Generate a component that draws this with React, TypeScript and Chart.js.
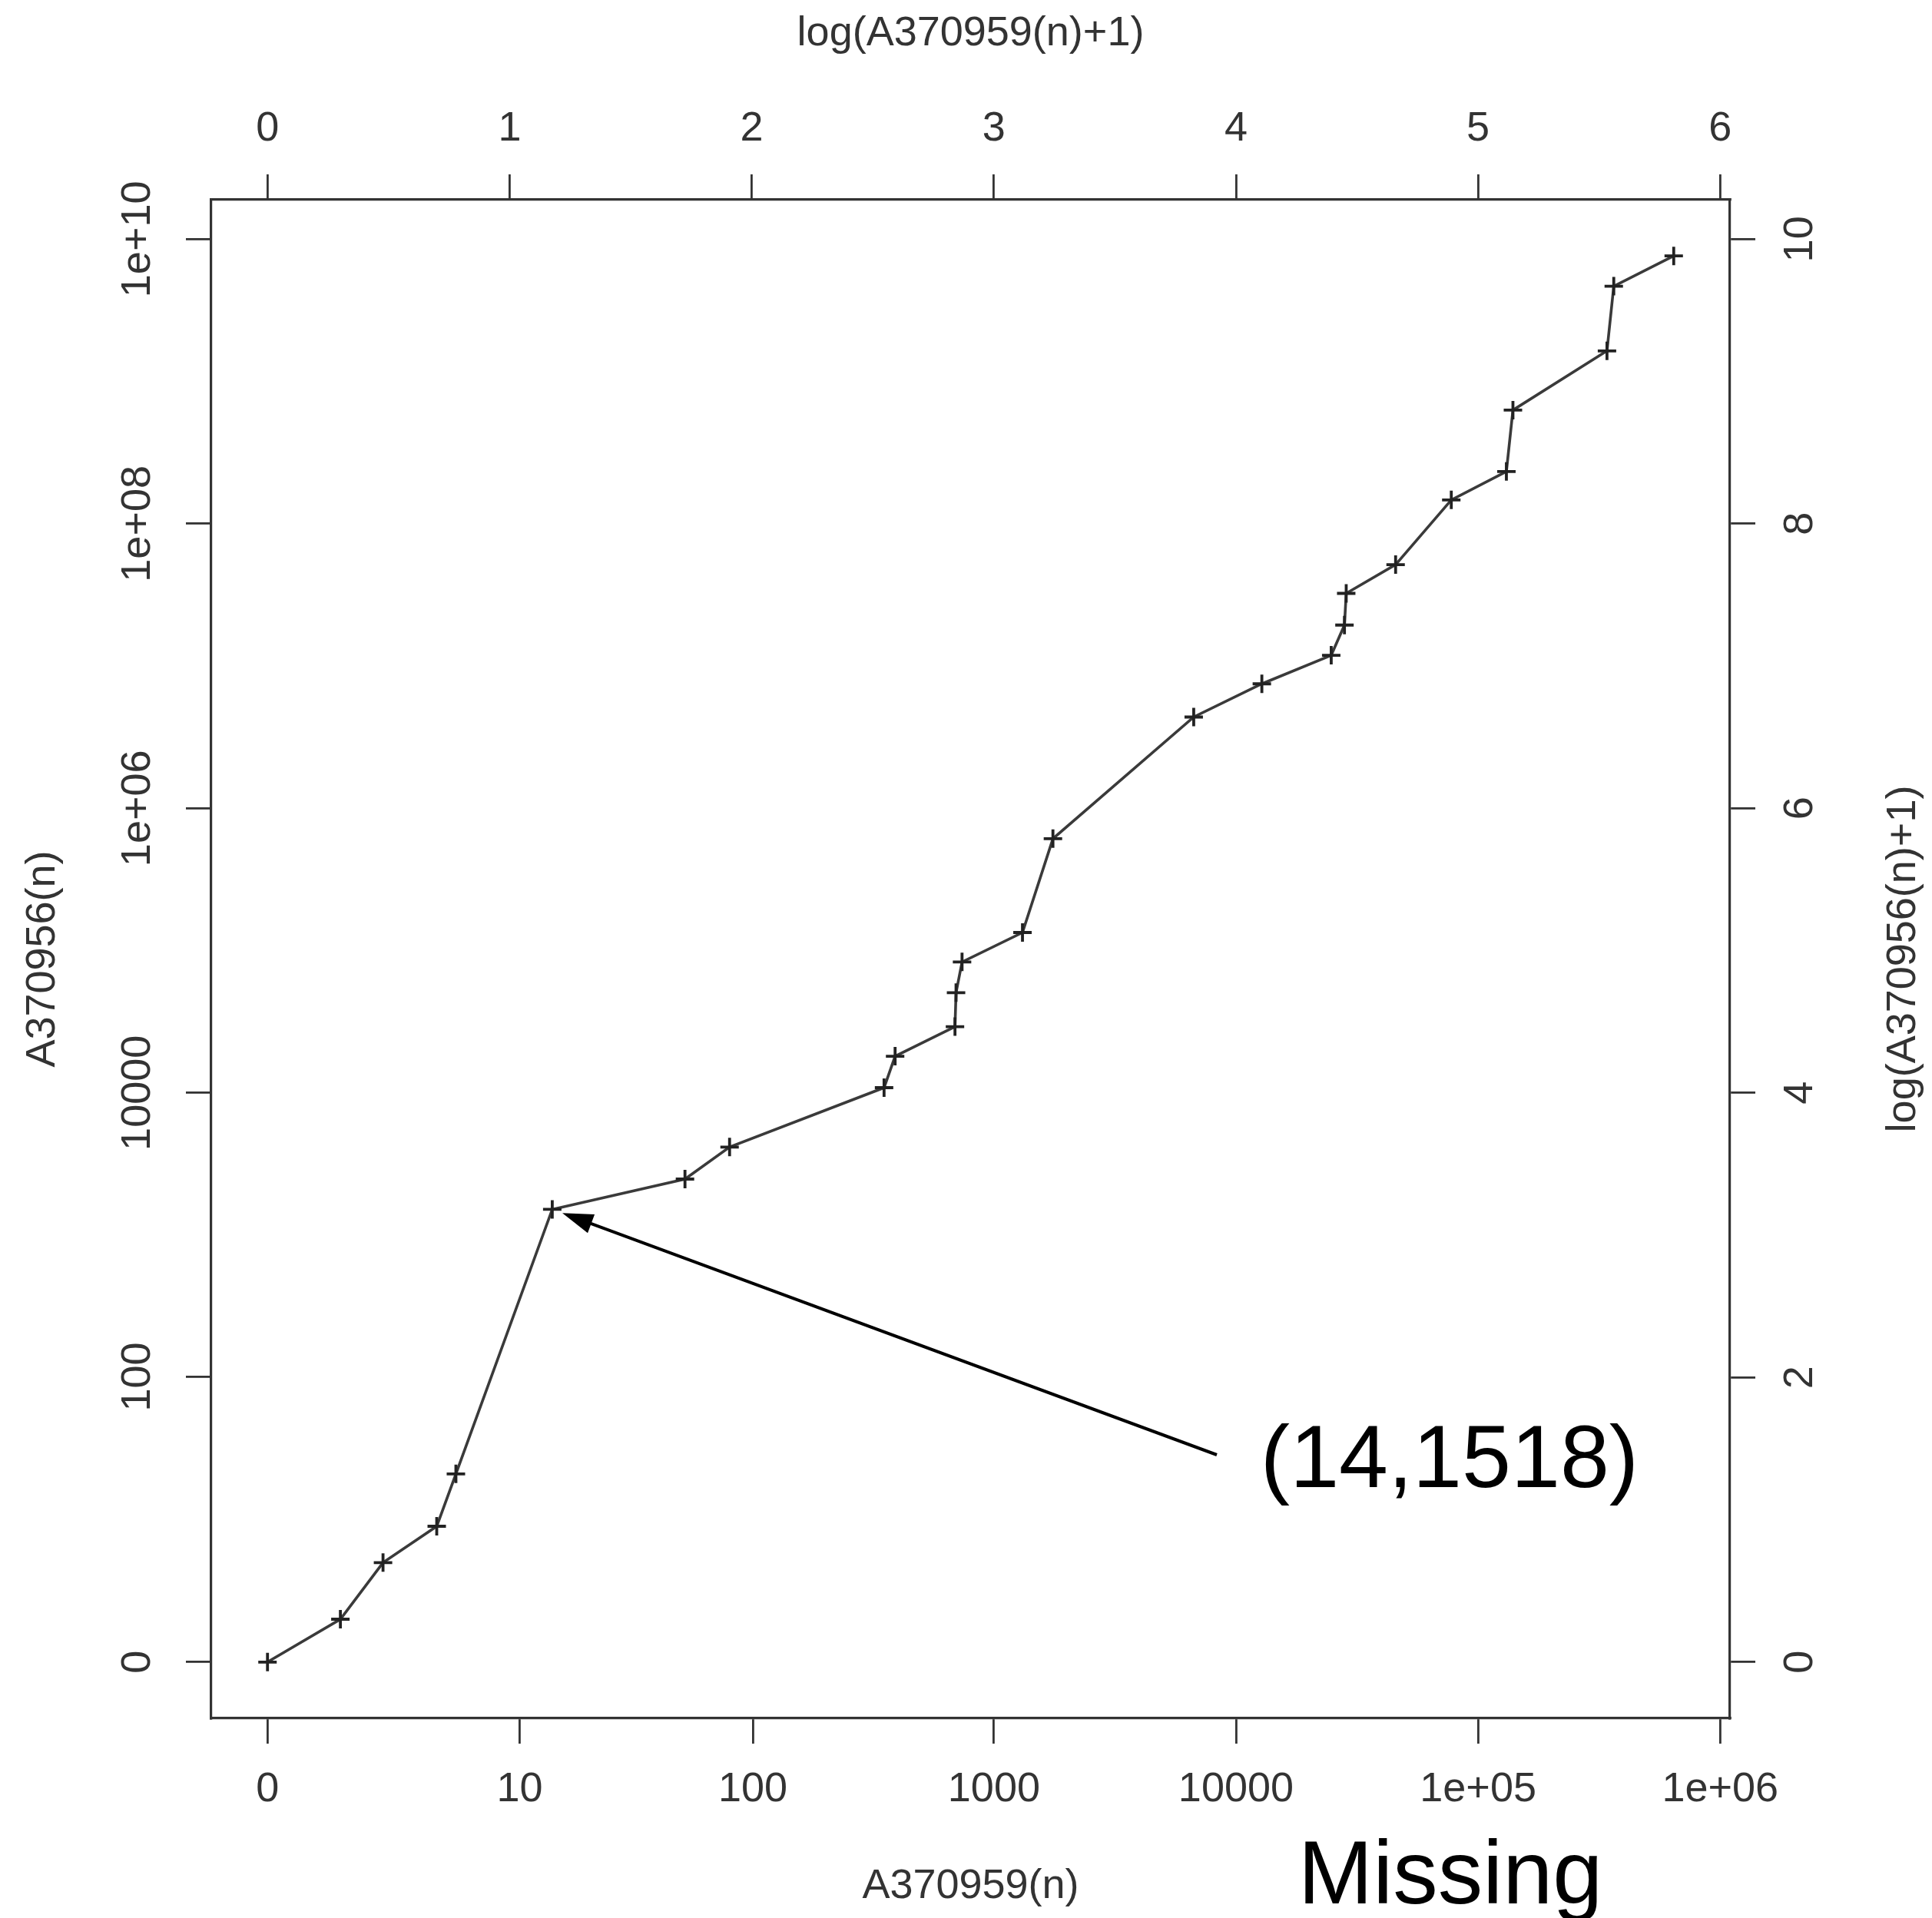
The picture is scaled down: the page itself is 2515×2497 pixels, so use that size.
import React, { useEffect, useRef } from "react";
import { Chart, registerables } from "chart.js";

Chart.register(...registerables);

// ---- data ----
const A370959 = [0, 1, 2, 4, 5, 14, 52, 80, 351, 390, 690, 697, 738, 1312, 1753, 6690, 12790, 24740, 28060, 28530, 45640, 77500, 130900, 139300, 340700, 363400, 642700];
const A370956 = [0, 1, 4, 8, 20, 1518, 2478, 4160, 10880, 18100, 29200, 50600, 83200, 134000, 612000, 4380000, 7500000, 11900000, 19400000, 32400000, 51600000, 147000000, 233000000, 629000000, 1640000000, 4670000000, 7620000000];

const bottomTickValues = [0, 10, 100, 1000, 10000, 100000, 1000000];
const bottomTickLabels = ["0", "10", "100", "1000", "10000", "1e+05", "1e+06"];
const leftTickValues = [0, 100, 10000, 1000000, 100000000, 10000000000];
const leftTickLabels = ["0", "100", "10000", "1e+06", "1e+08", "1e+10"];
const topTickValues = [0, 1, 2, 3, 4, 5, 6];
const rightTickValues = [0, 2, 4, 6, 8, 10];

const xTitle = "A370959(n)";
const yTitle = "A370956(n)";
const topTitle = "log(A370959(n)+1)";
const rightTitle = "log(A370956(n)+1)";
const highlightIndex = 5;
const highlightLabel = "(14,1518)";
const footnote = "Missing";

// ---- helpers ----
const lg = (v: number) => Math.log10(v + 1);
const FONT = '"Liberation Sans", Arial, Helvetica, sans-serif';
const INK = "#333333";
const LINE = "#3a3a3a";
const tickFont = { family: FONT, size: 54 };

function rRange(vals: number[]) {
  const mn = Math.min(...vals);
  const mx = Math.max(...vals);
  const pad = 0.04 * (mx - mn);
  return { min: mn - pad, max: mx + pad };
}

const setTicks = (vals: number[]) => (scale: any) => {
  scale.ticks = vals.map((v) => ({ value: v }));
};
const fixW = (w: number) => (scale: any) => {
  scale.width = w;
};
const fixH = (h: number) => (scale: any) => {
  scale.height = h;
};

const gridOpts = {
  drawOnChartArea: false,
  drawTicks: true,
  tickLength: 33,
  lineWidth: 2.8,
  color: INK,
};
const borderOpts = { display: true, color: INK, width: 3.2 };

const extrasPlugin = {
  id: "extras",
  afterDraw(chart: any) {
    const ctx = chart.ctx;
    const xs = chart.scales.x;
    const ys = chart.scales.y;
    const area = chart.chartArea;
    ctx.save();

    // right axis title (reads bottom-to-top)
    ctx.fillStyle = INK;
    ctx.font = `54px ${FONT}`;
    ctx.textAlign = "center";
    ctx.textBaseline = "middle";
    ctx.save();
    ctx.translate(chart.width - 37, (area.top + area.bottom) / 2);
    ctx.rotate(-Math.PI / 2);
    ctx.fillText(rightTitle, 0, 0);
    ctx.restore();

    // arrow to highlighted point
    const px = xs.getPixelForValue(lg(A370959[highlightIndex]));
    const py = ys.getPixelForValue(lg(A370956[highlightIndex]));
    const tailX = 1584;
    const tailY = 1894;
    const dx = tailX - px;
    const dy = tailY - py;
    const len = Math.hypot(dx, dy);
    const ux = dx / len;
    const uy = dy / len;
    const tipX = px + ux * 14;
    const tipY = py + uy * 14;
    const headLen = 40;
    const headHalf = 13;
    ctx.strokeStyle = "#000";
    ctx.lineWidth = 4;
    ctx.beginPath();
    ctx.moveTo(tailX, tailY);
    ctx.lineTo(tipX + ux * headLen * 0.7, tipY + uy * headLen * 0.7);
    ctx.stroke();
    const bx = tipX + ux * headLen;
    const by = tipY + uy * headLen;
    ctx.fillStyle = "#000";
    ctx.beginPath();
    ctx.moveTo(tipX, tipY);
    ctx.lineTo(bx - uy * headHalf, by + ux * headHalf);
    ctx.lineTo(bx + uy * headHalf, by - ux * headHalf);
    ctx.closePath();
    ctx.fill();

    // annotation texts
    ctx.textAlign = "center";
    ctx.textBaseline = "alphabetic";
    ctx.font = `115px ${FONT}`;
    ctx.fillText(highlightLabel, 1887, 1936);
    ctx.font = `117px ${FONT}`;
    ctx.fillText(footnote, 1888, 2478);

    ctx.restore();
  },
};

export default function App() {
  const ref = useRef<HTMLCanvasElement | null>(null);

  useEffect(() => {
    if (!ref.current) return;
    const xr = rRange(A370959.map(lg));
    const yr = rRange(A370956.map(lg));
    const points = A370959.map((v, i) => ({ x: lg(v), y: lg(A370956[i]) }));

    const chart = new Chart(ref.current, {
      type: "scatter",
      data: {
        datasets: [
          {
            data: points,
            showLine: true,
            borderColor: LINE,
            borderWidth: 3.6,
            tension: 0,
            pointStyle: "cross",
            pointRadius: 12,
            pointBorderWidth: 3.8,
            pointBorderColor: "#222",
            pointBackgroundColor: "#222",
            fill: false,
          } as any,
        ],
      },
      options: {
        animation: false,
        responsive: false,
        devicePixelRatio: 1,
        layout: { padding: 0 },
        plugins: {
          legend: { display: false },
          tooltip: { enabled: false },
          title: { display: false },
        },
        scales: {
          x: {
            type: "linear",
            position: "bottom",
            min: xr.min,
            max: xr.max,
            afterBuildTicks: setTicks(bottomTickValues.map(lg)),
            afterFit: fixH(260),
            grid: gridOpts,
            border: borderOpts,
            ticks: {
              autoSkip: false,
              minRotation: 0,
              maxRotation: 0,
              padding: 28,
              color: INK,
              font: tickFont,
              callback: (_v: any, i: number) => bottomTickLabels[i],
            },
            title: {
              display: true,
              text: xTitle,
              color: INK,
              font: tickFont,
              padding: { top: 0, bottom: 8 },
            },
          },
          x2: {
            type: "linear",
            position: "top",
            min: xr.min,
            max: xr.max,
            afterBuildTicks: setTicks(topTickValues),
            afterFit: fixH(260),
            grid: gridOpts,
            border: borderOpts,
            ticks: {
              autoSkip: false,
              minRotation: 0,
              maxRotation: 0,
              padding: 26,
              color: INK,
              font: tickFont,
              callback: (v: any) => String(Math.round(Number(v))),
            },
            title: {
              display: true,
              text: topTitle,
              color: INK,
              font: tickFont,
              padding: { top: 12, bottom: 0 },
            },
          },
          y: {
            type: "linear",
            position: "left",
            min: yr.min,
            max: yr.max,
            afterBuildTicks: setTicks(leftTickValues.map(lg)),
            afterFit: fixW(275),
            grid: gridOpts,
            border: borderOpts,
            ticks: {
              autoSkip: false,
              minRotation: 90,
              maxRotation: 90,
              crossAlign: "center",
              padding: -14,
              color: INK,
              font: tickFont,
              callback: (_v: any, i: number) => leftTickLabels[i],
            },
            title: {
              display: true,
              text: yTitle,
              color: INK,
              font: tickFont,
              padding: { top: 24, bottom: 0 },
            },
          },
          y2: {
            type: "linear",
            position: "right",
            min: yr.min,
            max: yr.max,
            afterBuildTicks: setTicks(rightTickValues),
            afterFit: fixW(263),
            grid: gridOpts,
            border: borderOpts,
            ticks: {
              autoSkip: false,
              minRotation: 90,
              maxRotation: 90,
              crossAlign: "center",
              padding: 29,
              color: INK,
              font: tickFont,
              callback: (v: any) => String(Math.round(Number(v))),
            },
            title: { display: false },
          },
        },
      } as any,
      plugins: [extrasPlugin],
    });
    return () => chart.destroy();
  }, []);

  return (
    <div
      style={{
        position: "absolute",
        left: 0,
        top: 0,
        width: 2515,
        height: 2497,
        background: "#ffffff",
      }}
    >
      <canvas ref={ref} width={2515} height={2497} style={{ display: "block" }} />
    </div>
  );
}
